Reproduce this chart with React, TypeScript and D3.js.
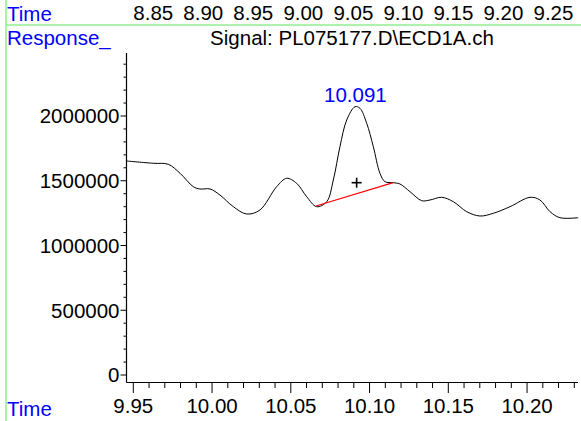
import { useMemo } from "react"
import { scaleLinear, line, curveCatmullRom, range } from "d3"

// chromatogram trace (time in min, response)
const times = [
  9.9458, 9.9627, 9.9722, 9.9797, 9.9881, 9.9923, 9.9987, 10.005, 10.0135, 10.022,
  10.0304, 10.041, 10.0474, 10.0537, 10.0601, 10.0664, 10.0728, 10.077, 10.0812,
  10.0855, 10.0908, 10.0939, 10.0982, 10.1024, 10.1066, 10.1098, 10.1151, 10.1193,
  10.1257, 10.1331, 10.1384, 10.1458, 10.1532, 10.1617, 10.1701, 10.1786, 10.1892,
  10.2019, 10.2082, 10.2146, 10.2209, 10.2325,
]
const responses = [
  1652500, 1634800, 1627100, 1557600, 1454100, 1436300, 1436300, 1390000, 1299600,
  1243200, 1274100, 1454100, 1518900, 1480300, 1376900, 1299600, 1338200, 1505800,
  1762900, 1969100, 2071800, 2059500, 1943700, 1762900, 1557600, 1492700, 1485000,
  1474900, 1415500, 1346000, 1351400, 1372200, 1338200, 1261000, 1227800, 1248700,
  1299600, 1372200, 1351400, 1261000, 1214700, 1214700,
]

// integration baseline of the labelled peak
const baselineTimes = [10.066, 10.115]
const baselineValues = [1305000, 1485000]
const peakTime = 10.091
const peakValue = 2072000
const peakLabel = "10.091"
const centroid = { t: 10.0918, v: 1485000 }

const xTicks = [9.95, 10.0, 10.05, 10.1, 10.15, 10.2]
const yTicks = [0, 500000, 1000000, 1500000, 2000000]
const topTimeLabels = ["8.85", "8.90", "8.95", "9.00", "9.05", "9.10", "9.15", "9.20", "9.25"]

const title = "Signal: PL075177.D\\ECD1A.ch"

const W = 581
const H = 421
const FONT = "'Liberation Sans', Arial, sans-serif"
const FS = 20.5
const BLUE = "#0000ff"
const GREEN = "#90ee90"

export default function App() {
  const left = 126.5
  const right = 578
  const top = 53
  const bottom = 382.5

  const x = scaleLinear().domain([9.95, 10.0]).range([133.3, 212.05])
  const y = scaleLinear().domain([0, 500000]).range([375, 310.25])
  const xTop = scaleLinear().domain([8.85, 9.25]).range([133.3, 533.5])

  const minorX = useMemo(
    () => range(0, 29).map((i) => +(9.95 + i * 0.01).toFixed(2)),
    []
  )
  const minorY = useMemo(() => range(0, 25).map((i) => i * 100000), [])

  const path = line<number>()
    .x((_, i) => x(times[i]))
    .y((d) => y(d))
    .curve(curveCatmullRom.alpha(0.5))(responses)

  const isMajorX = (t: number) => xTicks.some((m) => Math.abs(m - t) < 1e-6)

  return (
    <div style={{ position: "absolute", left: 0, top: 0 }}>
      <svg width={W} height={H} style={{ display: "block", background: "#fff" }} fontFamily={FONT}>
        {/* frame lines */}
        <line x1={6} x2={6} y1={0} y2={H} stroke={GREEN} strokeWidth={1.5} />
        <line x1={6} x2={W} y1={25} y2={25} stroke={GREEN} strokeWidth={1.5} />

        {/* header row */}
        <text x={7} y={21} fontSize={FS} fill={BLUE}>Time</text>
        {topTimeLabels.map((l) => (
          <text key={l} x={xTop(+l)} y={20} fontSize={FS} fill="#000">{l}</text>
        ))}
        <text x={7} y={45} fontSize={FS} fill={BLUE}>Response_</text>
        <text x={352} y={45} fontSize={FS} textAnchor="middle" fill="#000">{title}</text>

        {/* y axis */}
        <line x1={left} x2={left} y1={top} y2={bottom} stroke="#000" strokeWidth={1.2} />
        {minorY.map((v) => (
          <line
            key={v}
            x1={left}
            x2={left - (v % 500000 === 0 ? 6 : 3)}
            y1={y(v)}
            y2={y(v)}
            stroke="#000"
            strokeWidth={1}
          />
        ))}
        {yTicks.map((v) => (
          <text key={v} x={119.5} y={y(v) + 7.4} fontSize={FS} textAnchor="end" fill="#000">
            {v}
          </text>
        ))}

        {/* x axis */}
        <line x1={left} x2={right} y1={bottom} y2={bottom} stroke="#000" strokeWidth={1.2} />
        {minorX.map((t) => (
          <line
            key={t}
            x1={x(t)}
            x2={x(t)}
            y1={bottom}
            y2={bottom + (isMajorX(t) ? 10.5 : 5.5)}
            stroke="#000"
            strokeWidth={1}
          />
        ))}
        {xTicks.map((t) => (
          <text key={t} x={x(t)} y={413} fontSize={FS} textAnchor="middle" fill="#000">
            {t.toFixed(2)}
          </text>
        ))}
        <text x={7} y={416} fontSize={FS} fill={BLUE}>Time</text>

        {/* trace */}
        <path d={path ?? ""} fill="none" stroke="#000" strokeWidth={1} />

        {/* integration baseline */}
        <line
          x1={x(baselineTimes[0])}
          y1={y(baselineValues[0])}
          x2={x(baselineTimes[1])}
          y2={y(baselineValues[1])}
          stroke="#ff0000"
          strokeWidth={1.2}
        />
        <g transform={`translate(${x(centroid.t)},${y(centroid.v)})`} stroke="#000" strokeWidth={1.6}>
          <line x1={-5} x2={5} y1={0} y2={0} />
          <line x1={0} x2={0} y1={-5} y2={5} />
        </g>
        <text x={x(peakTime)} y={y(peakValue) - 5} fontSize={FS} textAnchor="middle" fill={BLUE}>
          {peakLabel}
        </text>
      </svg>
    </div>
  )
}
